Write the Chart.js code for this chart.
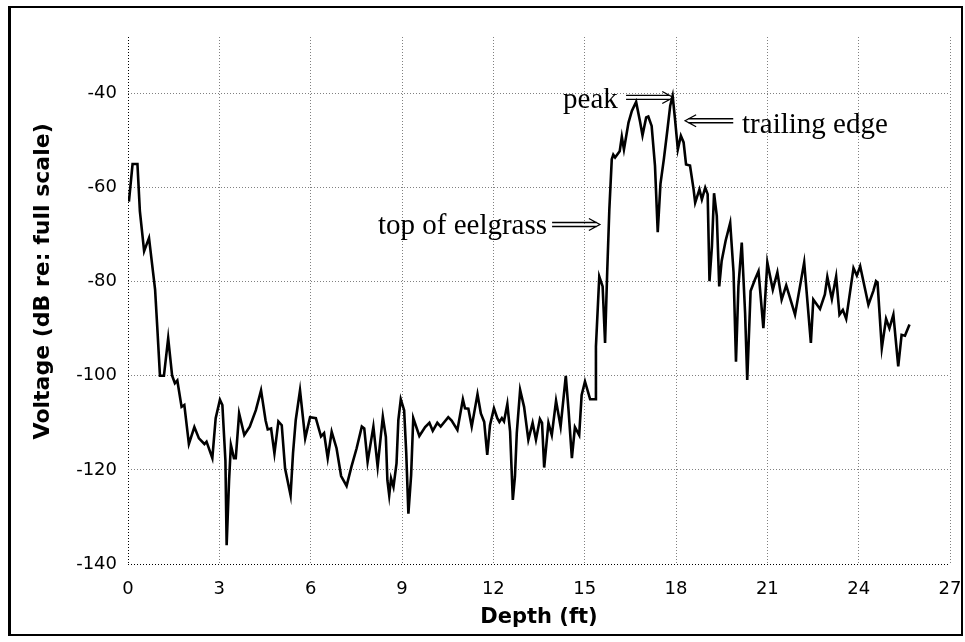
<!DOCTYPE html>
<html><head><meta charset="utf-8">
<script src="https://cdn.jsdelivr.net/npm/chart.js@4"></script>
<style>
html,body{margin:0;padding:0;background:#fff;}
#wrap{position:relative;width:965px;height:642px;overflow:hidden;}
#frame{position:absolute;left:8px;top:6px;width:950px;height:626px;border:2px solid #000;border-left-width:3px;pointer-events:none;}
canvas{position:absolute;left:0;top:0;}
</style></head><body>
<div id="wrap"><canvas id="c" width="965" height="642"></canvas><div id="frame"></div></div>
<script>
// Depth (ft) of each sample
const depth = [
0.03,0.15,0.31,0.39,0.53,0.69,0.89,0.96,1.05,1.18,1.32,1.45,1.54,1.62,1.76,1.85,2.0,2.18,2.33,2.51,
2.58,2.77,2.88,3.02,3.1,3.2,3.24,3.32,3.38,3.48,3.54,3.65,3.82,4.0,4.2,4.37,4.52,4.59,4.7,4.81,
4.94,5.05,5.16,5.34,5.42,5.51,5.65,5.82,5.98,6.17,6.34,6.44,6.56,6.69,6.85,7.0,7.18,7.34,7.51,7.68,
7.76,7.87,8.06,8.2,8.37,8.47,8.52,8.58,8.64,8.72,8.82,8.88,8.96,9.07,9.14,9.21,9.3,9.37,9.57,9.76,
9.9,10.01,10.16,10.27,10.52,10.63,10.82,11.0,11.07,11.18,11.29,11.48,11.59,11.7,11.8,11.89,12.02,12.13,12.2,12.28,
12.35,12.46,12.55,12.64,12.71,12.77,12.88,13.01,13.15,13.29,13.4,13.53,13.6,13.67,13.81,13.92,14.06,14.21,14.38,14.47,
14.58,14.68,14.82,14.9,15.01,15.18,15.34,15.37,15.48,15.59,15.67,15.74,15.81,15.89,15.94,16.0,16.15,16.22,16.29,16.44,
16.55,16.69,16.82,16.9,17.02,17.09,17.2,17.31,17.4,17.49,17.6,17.72,17.81,17.89,17.97,18.06,18.16,18.25,18.33,18.46,
18.58,18.63,18.77,18.85,18.96,19.04,19.1,19.18,19.25,19.34,19.42,19.5,19.63,19.78,19.89,19.97,20.05,20.16,20.27,20.34,
20.45,20.59,20.71,20.87,21.0,21.18,21.33,21.47,21.62,21.91,22.21,22.43,22.51,22.73,22.89,22.97,23.12,23.26,23.37,23.48,
23.59,23.83,23.94,24.05,24.32,24.48,24.57,24.62,24.76,24.9,25.01,25.14,25.3,25.41,25.52,25.67
];
// Voltage (dB re: full scale) of each sample
const voltage = [
-63,-55,-55,-65,-73.5,-70.7,-81.7,-89.5,-100,-100,-92,-100,-101.6,-101,-106.6,-106.2,-114.5,-110.9,-113.3,-114.5,
-114,-117.5,-109,-105.1,-106.2,-118,-136,-122.2,-114.7,-117.5,-117.5,-108,-112.6,-110.8,-107.3,-103.1,-109.5,-111.4,-111.2,-116.5,
-109.7,-110.5,-119.7,-125.4,-116.5,-109.4,-103.1,-113.3,-108.8,-109,-112.9,-112.2,-117.5,-111.9,-115.4,-121.3,-123.4,-119.3,-115.4,-110.8,
-111.2,-118.3,-110.8,-119.3,-108.7,-113,-122.2,-125.4,-121.8,-123.6,-118.6,-109.4,-105,-107.3,-116.5,-129.3,-121.1,-109,-112.8,-110.9,
-110,-111.7,-110,-110.8,-108.8,-109.5,-111.5,-105,-106.9,-107,-110.8,-103.9,-108,-109.8,-116.8,-110.5,-106.9,-109,-109.8,-109,
-109.7,-106,-111.8,-126.4,-121.4,-112.2,-103,-106.6,-113.6,-110,-113.6,-109.2,-110,-119.5,-110,-112.6,-105.3,-110.8,-100,-107.3,
-117.5,-110.9,-112.6,-104.1,-101.2,-105,-105,-93.8,-78.9,-81,-93,-78,-64.7,-54,-53,-53.6,-52.3,-49.2,-51.9,-46.2,
-43.7,-41.8,-46,-48.9,-45.1,-44.9,-46.9,-55.4,-69.5,-59.2,-54,-47.6,-42.6,-40.5,-45.6,-51.9,-49,-50.4,-55.1,-55.3,
-60.5,-63.2,-60.4,-62.5,-60,-61.4,-79.9,-72.5,-61.2,-66,-81,-75.6,-71.3,-67.5,-78,-97,-81,-71.7,-86.7,-100.9,
-82,-79.6,-77.8,-89.9,-75.9,-81.7,-78,-83.8,-80.8,-87,-75.9,-93,-83.8,-85.8,-82.7,-79,-83.7,-78.9,-87,-86,
-87.9,-77.1,-78.7,-76.7,-84.9,-82,-79.9,-80.2,-94.1,-87.9,-89.9,-87,-98,-91.3,-91.5,-89.1
];
const xTickStep = 3;
const yTickStep = 20;

// Text annotations (placed in data coordinates)
const notes = [
  {text:'peak', x:14.29, y:-43.0, arrowFrom:16.36, arrowTo:17.91, arrowY:-40.85},
  {text:'trailing edge', x:20.17, y:-48.3, arrowFrom:19.88, arrowTo:18.30, arrowY:-45.8},
  {text:'top of eelgrass', x:8.21, y:-69.9, arrowFrom:13.93, arrowTo:15.50, arrowY:-67.85}
];

const notePlugin = {
  id:'notes',
  afterDatasetsDraw(chart){
    const {ctx, scales:{x, y}} = chart;
    ctx.save();
    ctx.fillStyle = '#000'; ctx.strokeStyle = '#000';
    ctx.font = '29px "Liberation Serif", "Times New Roman", serif';
    ctx.textBaseline = 'alphabetic'; ctx.textAlign = 'left';
    ctx.lineWidth = 1.3;
    for (const n of notes){
      ctx.fillText(n.text, x.getPixelForValue(n.x), y.getPixelForValue(n.y));
      const x1 = x.getPixelForValue(n.arrowFrom), x2 = x.getPixelForValue(n.arrowTo);
      const ay = y.getPixelForValue(n.arrowY);
      const dir = Math.sign(x2 - x1);
      ctx.beginPath();
      ctx.moveTo(x1, ay - 2); ctx.lineTo(x2 - dir*3, ay - 2);
      ctx.moveTo(x1, ay + 2); ctx.lineTo(x2 - dir*3, ay + 2);
      ctx.moveTo(x2 - dir*11, ay - 6); ctx.lineTo(x2, ay); ctx.lineTo(x2 - dir*11, ay + 6);
      ctx.stroke();
    }
    ctx.restore();
  }
};

Chart.defaults.font.family = '"DejaVu Sans", sans-serif';
Chart.defaults.color = '#000';

const gridDash = [1, 2];
new Chart(document.getElementById('c'), {
  type:'line',
  data:{
    datasets:[{
      data: depth.map((d,i)=>({x:d, y:voltage[i]})),
      borderColor:'#000', borderWidth:2.6, pointRadius:0, tension:0, fill:false
    }]
  },
  options:{
    responsive:false, animation:false, devicePixelRatio:1,
    layout:{padding:{left:0, right:15, top:37, bottom:0}},
    plugins:{legend:{display:false}, tooltip:{enabled:false}},
    scales:{
      x:{
        type:'linear', min:0, max:27,
        afterFit(s){ s.height = 78; s.paddingRight = 0; s.paddingLeft = 0; },
        ticks:{stepSize:xTickStep, font:{size:18}, padding:15, maxRotation:0},
        grid:{drawTicks:false, lineWidth:1, color:c=> (c.tick && c.tick.value===0) ? '#000' : '#808080'},
        border:{display:false, dash:gridDash},
        title:{display:true, text:'Depth (ft)', font:{size:21, weight:'bold'}, padding:{top:0, bottom:12}}
      },
      y:{
        type:'linear', min:-140, max:-28,
        afterFit(s){ s.width = 128; s.paddingTop = 0; s.paddingBottom = 0; },
        ticks:{stepSize:yTickStep, includeBounds:false, font:{size:18}, padding:11},
        grid:{drawTicks:false, lineWidth:1, color:c=> (c.tick && c.tick.value===-140) ? '#000' : '#808080'},
        border:{display:false, dash:gridDash},
        title:{display:true, text:'     Voltage (dB re: full scale)', font:{size:22, weight:'bold'}, padding:{top:30, bottom:0}}
      }
    }
  },
  plugins:[notePlugin]
});
</script></body></html>
